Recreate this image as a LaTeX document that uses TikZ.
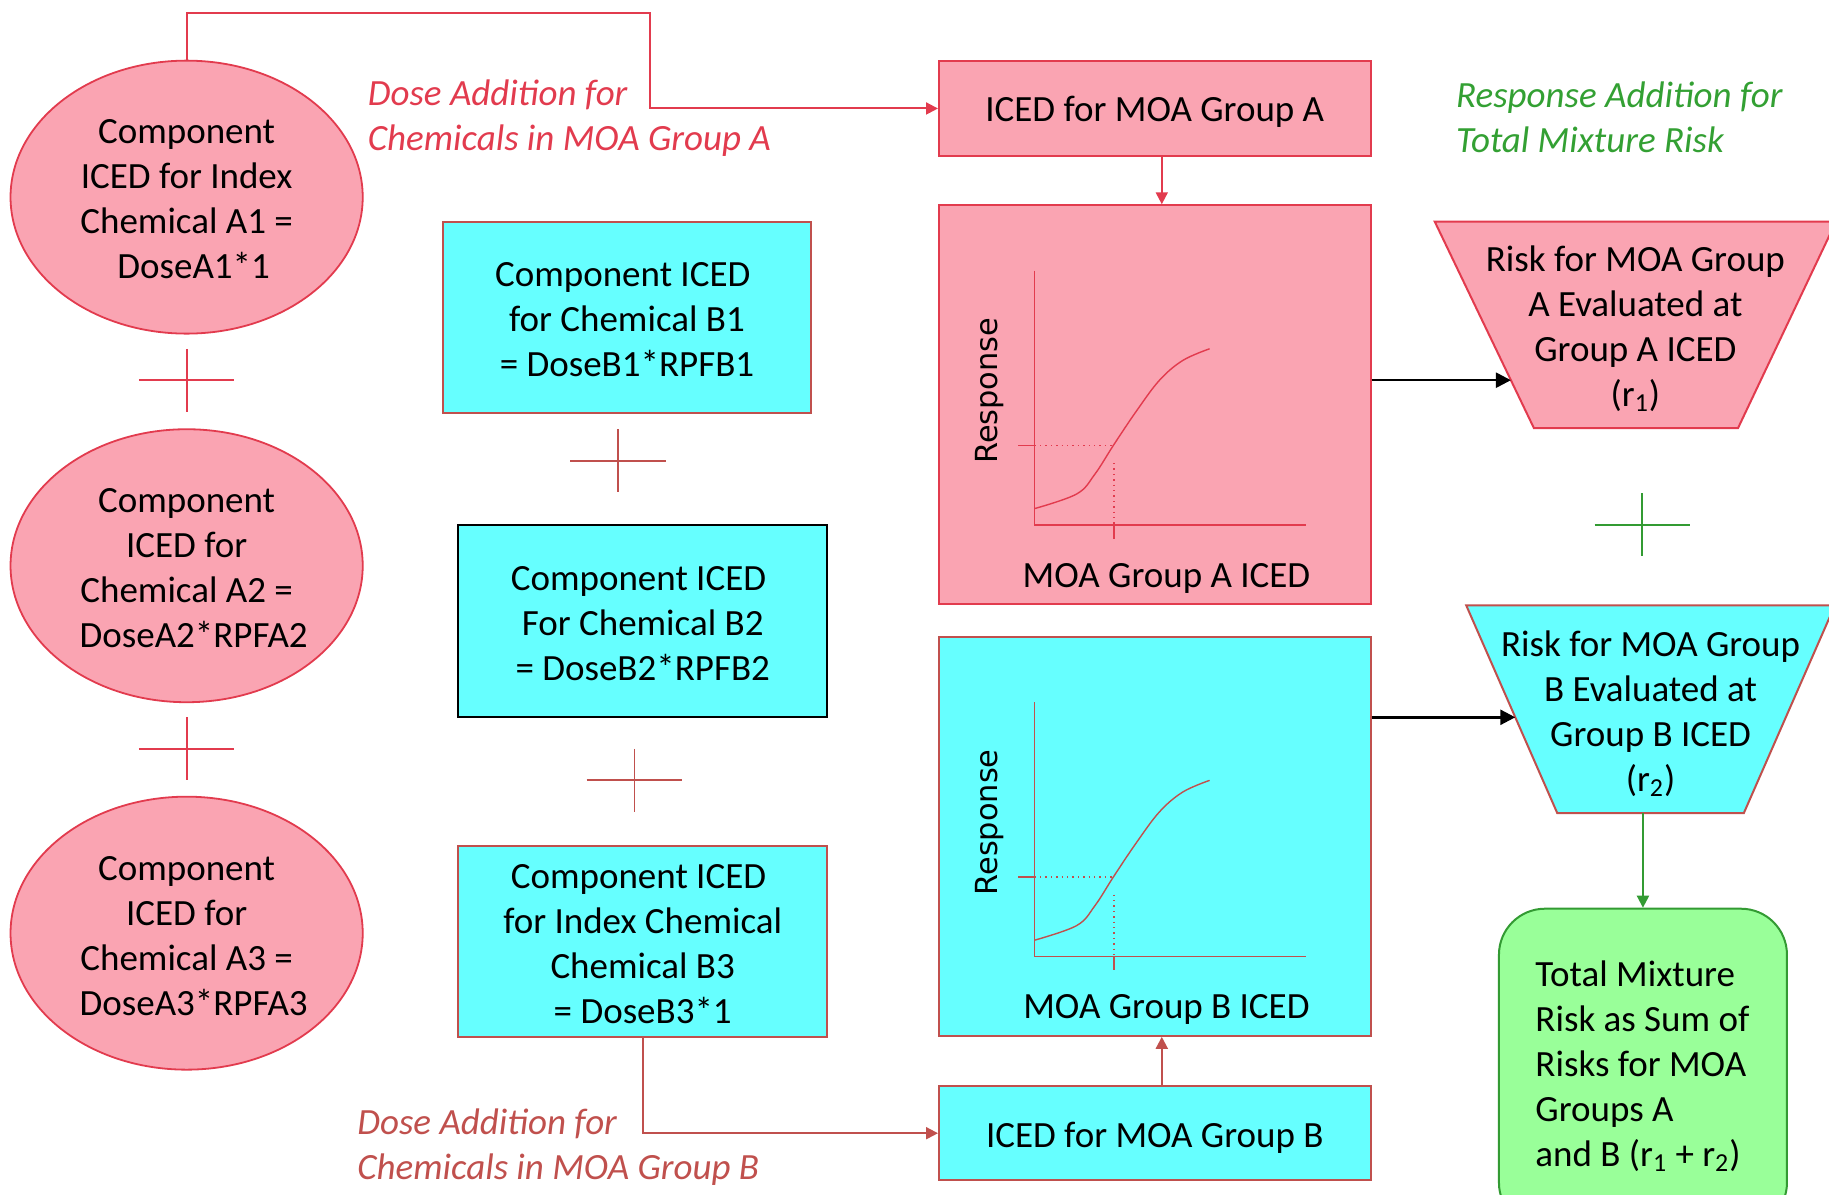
\documentclass[tikz,border=0pt]{standalone}
\usepackage{fontspec}
\setmainfont{Carlito}
\newfontfamily\axisfont{DejaVu Sans}
\usetikzlibrary{shapes.geometric,arrows.meta,calc}

\definecolor{pinkF}{RGB}{250,164,178}
\definecolor{redA}{RGB}{226,59,78}
\definecolor{cyanF}{RGB}{102,255,255}
\definecolor{brownR}{RGB}{192,80,77}
\definecolor{greenF}{RGB}{153,255,153}
\definecolor{greenD}{RGB}{51,155,51}
\definecolor{greenT}{RGB}{51,160,51}

\newcommand{\tsp}{\hspace*{4.2pt}}
\newcommand{\lsp}{\hspace*{7pt}}

\tikzset{
  txt/.style={font=\fontsize{18.5}{22.5}\selectfont, align=center, inner sep=0pt},
  lbl/.style={font=\fontsize{18.5}{22.5}\selectfont\itshape, align=left, anchor=west, inner sep=0pt},
  pinkell/.style={ellipse, draw=redA, fill=pinkF, line width=0.9pt, inner sep=0pt,
    minimum width=176.1pt, minimum height=136.5pt},
  pinkrect/.style={rectangle, draw=redA, fill=pinkF, line width=1pt, inner sep=0pt},
  cyanrect/.style={rectangle, draw=brownR, fill=cyanF, line width=1pt, inner sep=0pt},
  tip/.style={-{Triangle[length=6pt,width=6pt]}},
  redconn/.style={tip, draw=redA, line width=1pt},
  brownconn/.style={tip, draw=brownR, line width=1pt},
  blackconn/.style={-{Triangle[length=7.5pt,width=7.5pt]}, draw=black, line width=1.3pt},
  greenconn/.style={tip, draw=greenD, line width=1pt},
  plussign/.pic={\draw[line width=0.9pt] (-41,0) -- (41,0) (0,-27) -- (0,27);}
}

\begin{document}
\begin{tikzpicture}[x=0.58323pt, y=-0.58323pt]
\useasboundingbox (0,0) rectangle (1568,1024);

% Group A components (ellipses)
\node[pinkell] (A1) at (160,169) {};
\node[pinkell] (A2) at (160,485) {};
\node[pinkell] (A3) at (160,800) {};
\node[txt] (A1t) at ([yshift=-1.1pt]A1.center) {Component\\ICED for Index\\Chemical A1 =\\\lsp DoseA1*1};
\node[txt] (A2t) at ([yshift=-1.1pt]A2.center) {Component\\ICED for\\Chemical A2 =\\\lsp DoseA2*RPFA2};
\node[txt] (A3t) at ([yshift=-1.4pt]A3.center) {Component\\ICED for\\Chemical A3 =\\\lsp DoseA3*RPFA3};
\pic[color=redA] at (160,326) {plussign};
\pic[color=redA] at (160,642) {plussign};

% Group B components (boxes)
\node[cyanrect, minimum width=183.7pt, minimum height=95.6pt] (B1) at (537.5,272) {};
\node[cyanrect, draw=black, minimum width=184.3pt, minimum height=96.2pt] (B2) at (551,532.5) {};
\node[cyanrect, minimum width=184.3pt, minimum height=95.6pt] (B3) at (551,807) {};
\node[txt] (B1t) at ([yshift=-1.0pt]B1.center) {Component ICED\tsp\\for Chemical B1\\= DoseB1*RPFB1};
\node[txt] (B2t) at ([yshift=-1.0pt]B2.center) {Component ICED\tsp\\For Chemical B2\\= DoseB2*RPFB2};
\node[txt] (B3t) at ([yshift=-1.3pt]B3.center) {Component ICED\tsp\\for Index Chemical\tsp\\Chemical B3\\= DoseB3*1};
\pic[color=brownR] at (530,395) {plussign};
\pic[color=brownR] at (544,669) {plussign};

% Group ICED boxes and dose-response panels
\node[pinkrect, minimum width=215.8pt, minimum height=47.8pt] (gA) at (990,93) {};
\node[pinkrect, minimum width=215.8pt, minimum height=199.5pt] (bigA) at (990,347) {};
\node[cyanrect, minimum width=215.8pt, minimum height=199.5pt] (bigB) at (990,717) {};
\node[cyanrect, minimum width=215.8pt, minimum height=47.2pt] (gB) at (990,971.5) {};
\node[txt] (gAt) at ([yshift=-1.8pt]gA.center) {ICED for MOA Group A};
\node[txt] (gBt) at ([yshift=-2.2pt]gB.center) {ICED for MOA Group B};

\foreach \dy/\col/\g in {0/redA/A, 370/brownR/B}{
  \begin{scope}[shift={(0,\dy)}, draw=\col, line width=0.7pt]
    \draw (887,232) -- (887,450) -- (1120,450);
    \draw plot[smooth, tension=0.6] coordinates {(887,436) (923,423.5) (938.5,406.7)
      (954.7,381.5) (973.9,352.9) (994,326) (1014,309) (1037,299)};
    \draw (873,382) -- (887,382);
    \draw[dotted] (887,382) -- (955,382);
    \draw[dotted] (955,397) -- (955,450);
    \draw (955,450) -- (955,462);
    \node[rotate=90, inner sep=0pt, font=\axisfont\fontsize{15.2}{18}\selectfont] (resp\g) at (848,335) {Response};
    \node[txt] (axis\g) at (1000,495.5) {MOA Group \g{} ICED};
  \end{scope}
}

% Risk trapezia
\coordinate (tAtl) at (1230,190);
\coordinate (tAtr) at (1574,190);
\coordinate (tAbr) at (1490,367);
\coordinate (tAbl) at (1315,367);
\filldraw[draw=redA, fill=pinkF, line width=1pt] (tAtl) -- (tAtr) -- (tAbr) -- (tAbl) -- cycle;
\node[txt] (riskA) at (1402,282) {Risk for MOA Group\\A Evaluated at\\Group A ICED\\(r\textsubscript{1})};

\coordinate (tBtl) at (1257,519);
\coordinate (tBtr) at (1573,519);
\coordinate (tBbr) at (1495,697);
\coordinate (tBbl) at (1335,697);
\filldraw[draw=brownR, fill=cyanF, line width=1pt] (tBtl) -- (tBtr) -- (tBbr) -- (tBbl) -- cycle;
\node[txt] (riskB) at (1415,611.5) {Risk for MOA Group\\B Evaluated at\\Group B ICED\\(r\textsubscript{2})};

\pic[color=greenD] at (1408,450) {plussign};

% Total mixture risk
\node[draw=greenD, fill=greenF, rounded corners=23pt, line width=1pt,
  minimum width=144pt, minimum height=160pt] (tot) at (1408.5,916.2) {};
\node[txt, align=left, anchor=west] (totT) at (1316,914)
  {Total Mixture\\Risk as Sum of\\Risks for MOA\\Groups A\\and B (r\textsubscript{1} + r\textsubscript{2})};

% Labels
\node[lbl, text=redA] (labA) at (315,101.5) {Dose Addition for\\Chemicals in MOA Group A};
\node[lbl, text=brownR] (labB) at (306,983.5) {Dose Addition for\\Chemicals in MOA Group B};
\node[lbl, text=greenT] (labR) at (1248,100.5) {Response Addition for\\Total Mixture Risk};

% Connectors
\coordinate (kA) at (557,11);
\draw[redconn] (A1.north) |- (kA) |- (gA.west);
\draw[redconn] ([xshift=3.5pt]gA.south) -- ([xshift=3.5pt]bigA.north);
\draw[brownconn] (B3.south) |- (gB.west);
\draw[brownconn] ([xshift=3.5pt]gB.north) -- ([xshift=3.5pt]bigB.south);

\coordinate (inA) at ($(tAtl)!0.768!(tAbl)$);
\coordinate (inB) at ($(tBtl)!0.539!(tBbl)$);
\draw[blackconn] (bigA.east |- inA) -- (inA);
\draw[blackconn] (bigB.east |- inB) -- (inB);
\draw[greenconn] (tot.north |- tBbl) -- (tot.north);
\end{tikzpicture}
\end{document}
